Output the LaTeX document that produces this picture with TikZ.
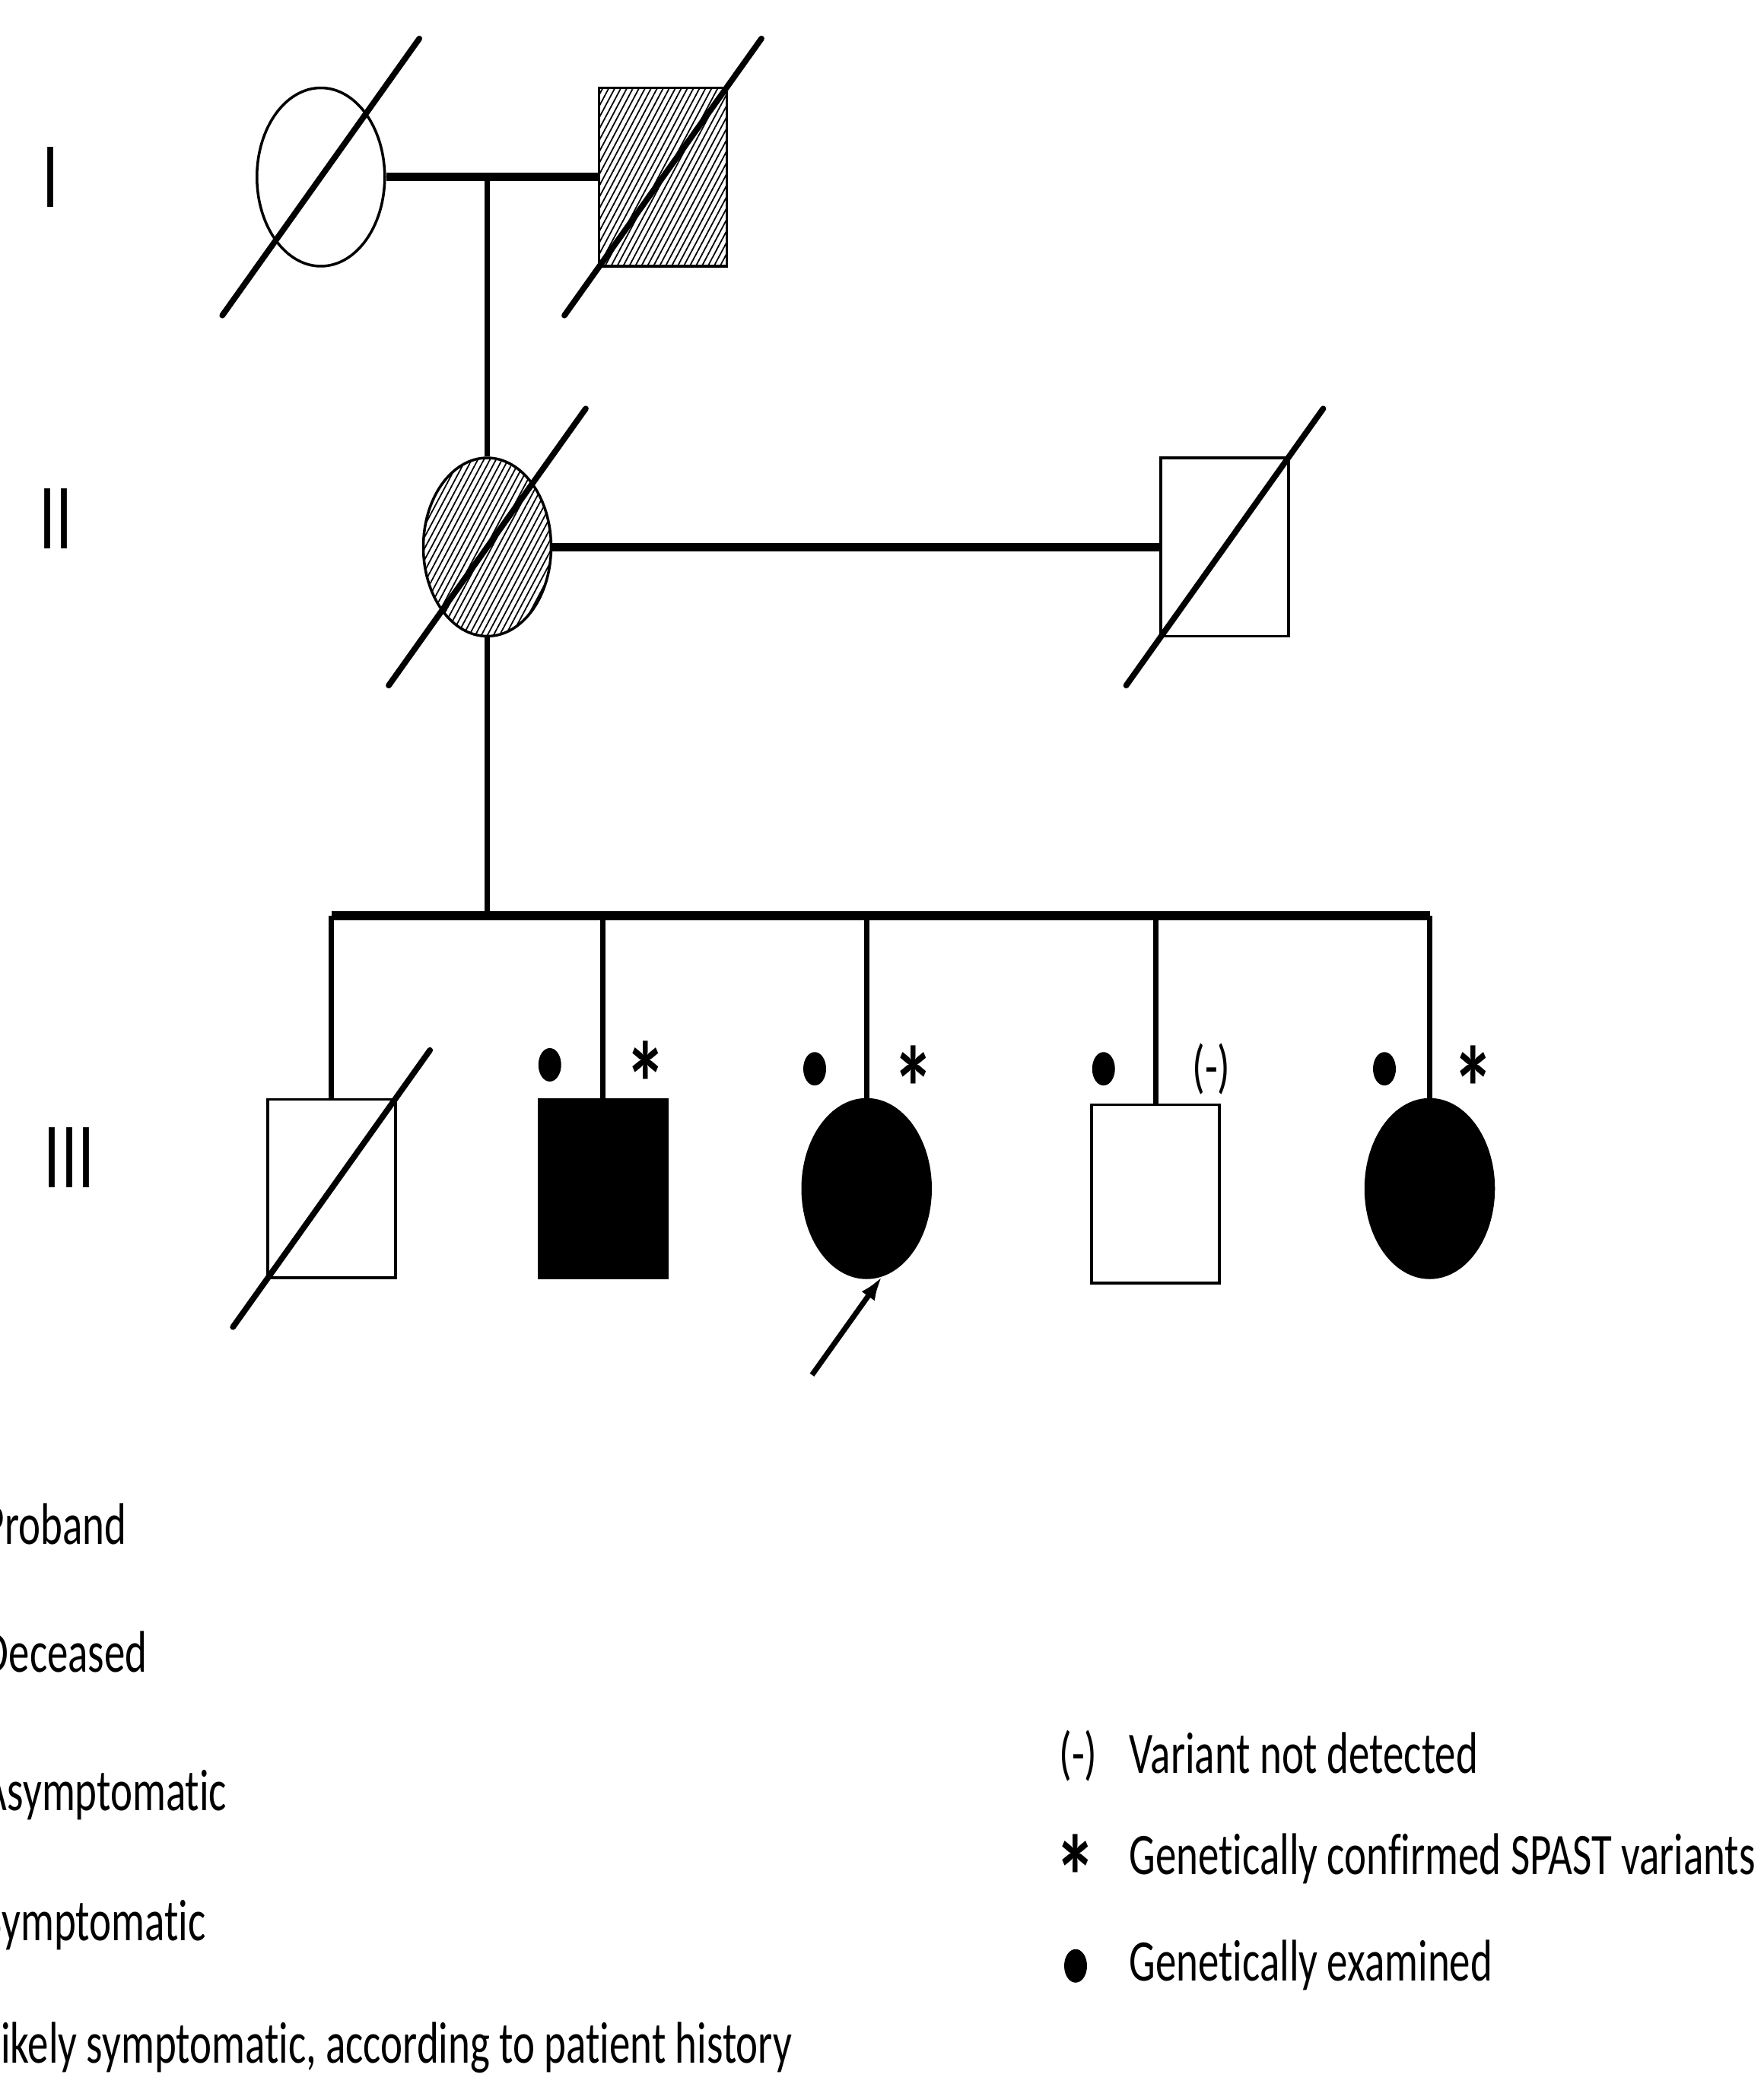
\documentclass[tikz,border=0pt]{standalone}
\usepackage{fontspec}
\setmainfont[FakeStretch=0.71, Ligatures=NoCommon]{Carlito}
\usetikzlibrary{arrows.meta, positioning, calc, shapes.geometric, patterns.meta}

\begin{document}
\begin{tikzpicture}[
    x=0.0175cm, y=-0.0175cm,
    >=Latex,
    person/.style={
        draw,
        line width=1pt,
        inner sep=0pt,
        minimum width=1.68cm,
        minimum height=2.345cm
    },
    female/.style={person, ellipse},
    male/.style={person, rectangle},
    affected/.style={fill=black},
    likely/.style={pattern={Lines[angle=62, distance=2pt, line width=0.5pt]}},
    dead/.style={line width=2.2pt, line cap=round},
    mate/.style={line width=3.2pt},
    kin/.style={line width=2pt},
    tested/.style={
        ellipse,
        fill=black,
        inner sep=0pt,
        minimum width=0.3cm,
        minimum height=0.44cm
    },
    gen/.style={font=\fontsize{35}{40}\selectfont, inner sep=0pt},
    note/.style={font=\fontsize{22}{26}\selectfont, inner sep=0pt},
    confirmed/.style={font=\bfseries\fontsize{44}{44}\selectfont, inner sep=0pt}
]

\useasboundingbox (0,0) rectangle (1325,1568);

% Generation labels
\node[gen] (g1) at (38,133) {I};
\node[gen] (g2) at (42,390) {II};
\node[gen] (g3) at (52,870) {III};

% Generation I
\node[female] (f1) at (241,133) {};
\node[male, likely] (m1) at (498,133) {};
\draw[mate] (f1) -- (m1);
\draw[dead] (f1) ++(-74,104) -- ++(148,-208);
\draw[dead] (m1) ++(-74,104) -- ++(148,-208);

% Generation II
\node[female, likely] (f2) at (366,411) {};
\node[male] (m2) at (920,411) {};
\draw[kin] (f2 |- f1) -- (f2.north);
\draw[mate] (f2) -- (m2);
\draw[dead] (f2) ++(-74,104) -- ++(148,-208);
\draw[dead] (m2) ++(-74,104) -- ++(148,-208);

% Generation III
\coordinate (sib) at (369,688);
\node[male] (c1) at (249,893) {};
\node[male, affected] (c2) at (453,893) {};
\node[female, affected] (c3) at (651,893) {};
\node[male] (c4) at (868,897) {};
\node[female, affected] (c5) at (1074,893) {};
\draw[kin] (f2.south) -- (f2.south |- sib);
\draw[mate] (c1.north |- sib) -- (c5.north |- sib);
\foreach \c in {c1,c2,c3,c4,c5}
    \draw[kin] (\c.north |- sib) -- (\c.north);
\draw[dead] (c1) ++(-74,104) -- ++(148,-208);

% Test marks
\node[tested] (t2) at (413,800) {};
\node[tested] (t3) at (612,803) {};
\node[tested] (t4) at (829,803) {};
\node[tested] (t5) at (1040,803) {};
\node[confirmed] (s2) at (485,814) {*};
\node[confirmed] (s3) at (686,817) {*};
\node[confirmed] (s5) at (1107,817) {*};
\node[note] (n4) at (910,803) {(-)};

% Proband arrow
\coordinate (pb) at (610,1033);
\draw[-{Latex[length=9pt, width=6pt]}, line width=2pt] (pb) -- (c3.-80);

% Legend
\node[note, anchor=base west] (lp) at (-13,1160) {Proband};
\node[note, anchor=base west] (ld) at (-13,1256) {Deceased};
\node[note, anchor=base west] (la) at (-13,1360) {Asymptomatic};
\node[note, anchor=base west] (ls) at (-13,1458) {Symptomatic};
\node[note, anchor=base west] (ll) at (-13,1550) {Likely symptomatic, according to patient history};

\node[note] (kn) at (810,1319) {(-)};
\node[note, anchor=base west] (ln) at (848,1332) {Variant not detected};
\node[confirmed] (kc) at (808,1410) {*};
\node[note, anchor=base west] (lc) at (848,1408) {Genetically confirmed SPAST variants};
\node[tested] (kt) at (808,1477) {};
\node[note, anchor=base west] (lt) at (848,1488) {Genetically examined};

\end{tikzpicture}
\end{document}
